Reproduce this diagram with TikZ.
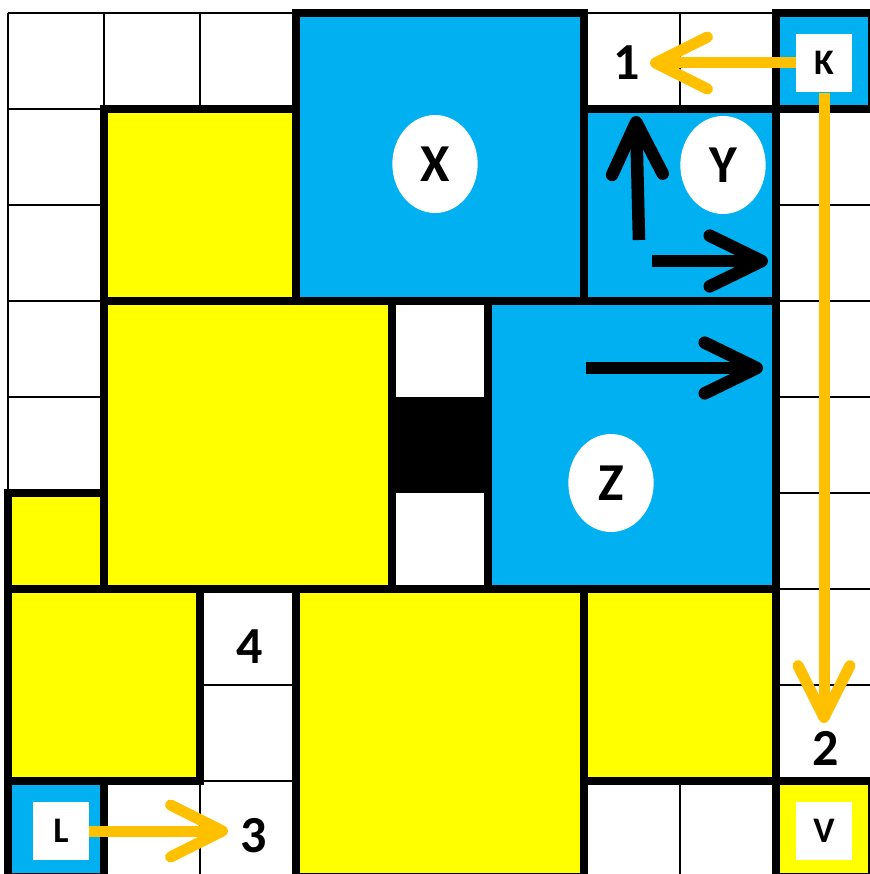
\documentclass[tikz,border=0pt]{standalone}
\usepackage{fontspec}
\setmainfont{Carlito}
\usetikzlibrary{arrows.meta,shapes.geometric}
\definecolor{cblue}{HTML}{00B0F0}
\definecolor{cyel}{HTML}{FFFF00}
\definecolor{corange}{HTML}{FFC000}
\begin{document}
\begin{tikzpicture}[x=0.75pt,y=-0.75pt,
  gridline/.style={draw=black,line width=1.9pt},
  piece/.style={draw=black,line width=6pt},
  bluepiece/.style={piece,fill=cblue},
  yelpiece/.style={piece,fill=cyel},
  whitepiece/.style={piece,fill=white},
  bigtext/.style={font=\fontsize{39}{39}\selectfont\bfseries},
  lettertext/.style={font=\fontsize{40}{40}\selectfont\bfseries},
  smalltext/.style={font=\fontsize{27}{27}\selectfont\bfseries},
  oval/.style={ellipse,fill=white,inner sep=0pt,minimum width=64pt,minimum height=73.5pt,lettertext},
  innersq/.style={rectangle,fill=white,inner sep=0pt,minimum width=42pt,minimum height=44pt,smalltext},
  numlabel/.style={inner sep=0pt,bigtext},
  oarrow/.style={draw=corange,line width=8.25pt,-{Straight Barb[length=39pt,width=39pt,round]}},
  karrow/.style={draw=black,line width=9.4pt,-{Straight Barb[length=39pt,width=38pt,round]}}
]
\useasboundingbox (0,0) rectangle (870,874);
\clip (0,0) rectangle (870,874);
\fill[white] (0,0) rectangle (870,874);
% thin grid
\foreach \i in {0,...,9}{
  \draw[gridline] (8+96*\i,13) -- (8+96*\i,877);
  \draw[gridline] (8,13+96*\i) -- (872,13+96*\i);
}
% pieces
\draw[bluepiece] (296,13) rectangle (584,301);
\draw[yelpiece] (104,109) rectangle (296,301);
\draw[bluepiece] (584,109) rectangle (776,301);
\draw[bluepiece] (776,13) rectangle (872,109);
\draw[yelpiece] (104,301) rectangle (392,589);
\draw[whitepiece] (392,301) rectangle (488,589);
\fill[black] (392,397) rectangle (488,493);
\draw[bluepiece] (488,301) rectangle (776,589);
\draw[yelpiece] (8,493) rectangle (104,589);
\draw[yelpiece] (8,589) rectangle (200,781);
\draw[yelpiece] (296,589) rectangle (584,877);
\draw[yelpiece] (584,589) rectangle (776,781);
\draw[bluepiece] (8,781) rectangle (104,877);
\draw[yelpiece] (776,781) rectangle (872,877);
% ovals
\node[oval] (X) at (435,164) {X};
\node[oval] (Y) at (723,165) {Y};
\node[oval] (Z) at (611,483) {Z};
% inner squares
\node[innersq] (K) at (824,63) {K};
\node[innersq] (L) at (61,831) {L};
\node[innersq] (V) at (824,831) {V};
% number labels
\node[numlabel] (one) at (627,63) {1};
\node[numlabel] (two) at (826,748) {2};
\node[numlabel] (three) at (254,836) {3};
\node[numlabel] (four) at (250,647) {4};
% orange arrows
\coordinate (t1) at (650,63);
\coordinate (t2) at (824,723);
\coordinate (t3) at (228,831);
\draw[oarrow] (K.west) -- (t1);
\draw[oarrow] (K.south) -- (t2);
\draw[oarrow] (L.east) -- (t3);
% black arrows
\coordinate (ya1) at (639,240);
\coordinate (ya2) at (636,116);
\coordinate (yb1) at (652,261);
\coordinate (yb2) at (768,261);
\coordinate (za1) at (586,368);
\coordinate (za2) at (763,368);
\draw[karrow] (ya1) -- (ya2);
\draw[karrow] (yb1) -- (yb2);
\draw[karrow] (za1) -- (za2);
\end{tikzpicture}
\end{document}
